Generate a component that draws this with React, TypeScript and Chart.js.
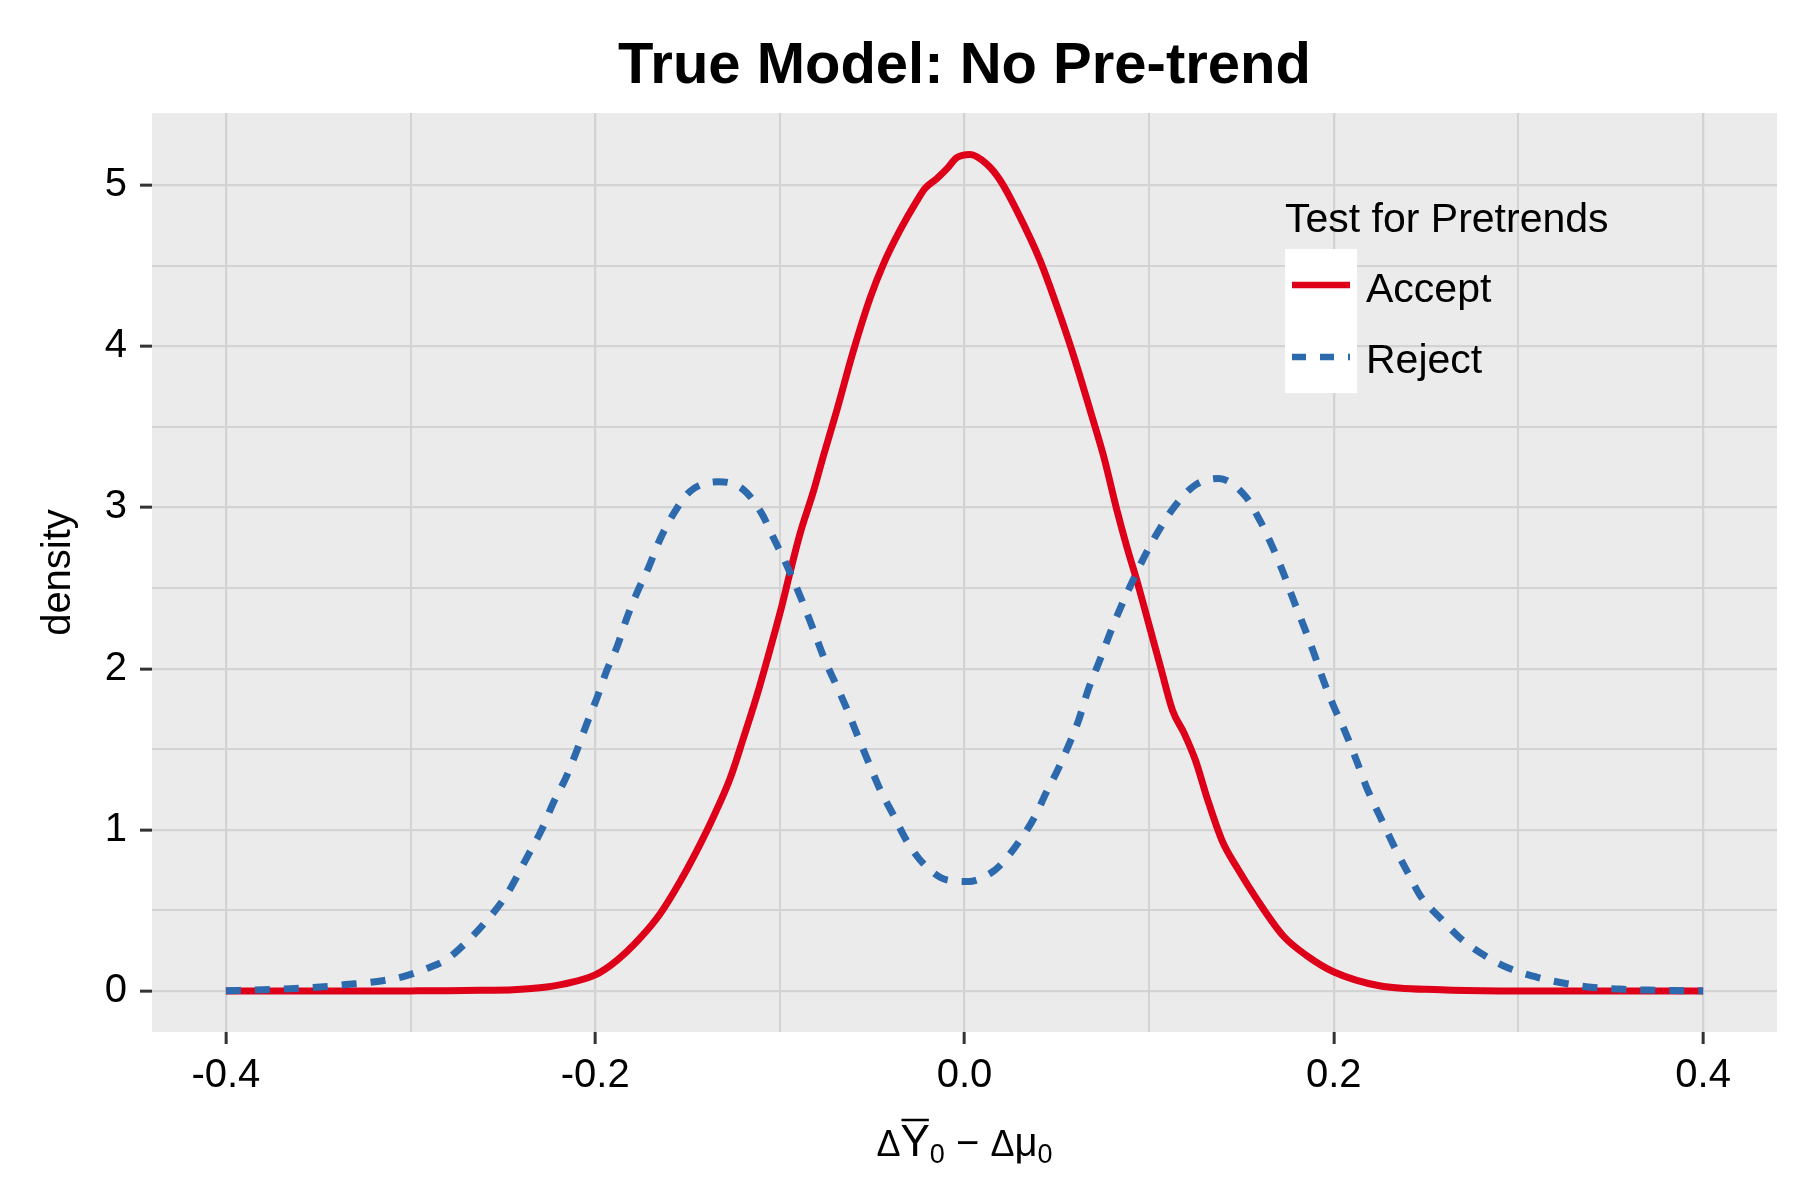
import React, { useEffect, useRef } from "react";
import { Chart, registerables } from "chart.js";

Chart.register(...registerables);

// density estimates
const acceptX = [
  -0.4, -0.35, -0.3, -0.28, -0.26, -0.2444, -0.23, -0.2173, -0.2, -0.1883, -0.1756, -0.1648,
  -0.154, -0.145, -0.136, -0.1269, -0.1197, -0.1125, -0.107, -0.0998, -0.0944, -0.089, -0.0818,
  -0.0764, -0.0692, -0.0602, -0.0511, -0.0439, -0.0349, -0.0259, -0.0213, -0.015, -0.0096,
  -0.0042, 0.0031, 0.0121, 0.0193, 0.0284, 0.041, 0.05, 0.0591, 0.0681, 0.0753, 0.0826, 0.0878,
  0.094, 0.1002, 0.1064, 0.1127, 0.1189, 0.1251, 0.1313, 0.1396, 0.1479, 0.1583, 0.1728, 0.1853,
  0.1998, 0.2247, 0.2579, 0.29, 0.33, 0.4,
];
const acceptY = [
  0, 0, 0.001, 0.002, 0.005, 0.008, 0.02, 0.043, 0.1, 0.19, 0.33, 0.48,
  0.68, 0.87, 1.08, 1.32, 1.57, 1.83, 2.05, 2.35, 2.6, 2.84, 3.1,
  3.32, 3.6, 3.97, 4.3, 4.51, 4.72, 4.9, 4.98, 5.04, 5.1,
  5.17, 5.19, 5.13, 5.03, 4.84, 4.53, 4.25, 3.94, 3.6, 3.32, 2.98, 2.76,
  2.52, 2.26, 2.0, 1.74, 1.6, 1.43, 1.2, 0.93, 0.76, 0.57, 0.34, 0.22,
  0.12, 0.033, 0.008, 0.001, 0, 0,
];

const rejectX = [
  -0.4, -0.38, -0.365, -0.349, -0.335, -0.319, -0.304, -0.29, -0.28, -0.27, -0.26, -0.2478,
  -0.236, -0.229, -0.2226, -0.216, -0.21, -0.2045, -0.199, -0.1937, -0.188, -0.183, -0.1774,
  -0.171, -0.165, -0.1576, -0.1486, -0.133, -0.1197, -0.1097, -0.1034, -0.0962, -0.089, -0.0818,
  -0.0755, -0.0691, -0.0637, -0.0574, -0.052, -0.0457, -0.0384, -0.0312, -0.0222, -0.0096, 0.0022,
  0.0139, 0.0193, 0.0297, 0.038, 0.0442, 0.0504, 0.0566, 0.0618, 0.067, 0.0732, 0.0795, 0.0857,
  0.0909, 0.0981, 0.1064, 0.1147, 0.1251, 0.1376, 0.1521, 0.1604, 0.1666, 0.1728, 0.178, 0.1842,
  0.1894, 0.1946, 0.1998, 0.2061, 0.2123, 0.2175, 0.2247, 0.233, 0.2403, 0.2475, 0.2579, 0.2683,
  0.2817, 0.2952, 0.3097, 0.3263, 0.3409, 0.355, 0.37, 0.384, 0.4,
];
const rejectY = [
  0.002, 0.008, 0.015, 0.025, 0.04, 0.058, 0.09, 0.145, 0.2, 0.3, 0.42, 0.6,
  0.85, 1.0, 1.17, 1.32, 1.49, 1.66, 1.82, 1.99, 2.14, 2.31, 2.47,
  2.63, 2.8, 2.96, 3.1, 3.16, 3.11, 2.96, 2.81, 2.64, 2.45, 2.24,
  2.05, 1.89, 1.75, 1.57, 1.42, 1.25, 1.09, 0.93, 0.79, 0.69, 0.68,
  0.73, 0.78, 0.93, 1.08, 1.23, 1.37, 1.53, 1.68, 1.87, 2.05, 2.24, 2.41,
  2.54, 2.71, 2.88, 3.02, 3.14, 3.18, 3.07, 2.91, 2.76, 2.59, 2.43, 2.25,
  2.09, 1.92, 1.77, 1.61, 1.43, 1.27, 1.09, 0.89, 0.73, 0.58, 0.45, 0.33,
  0.22, 0.14, 0.087, 0.045, 0.022, 0.012, 0.006, 0.003, 0.001,
];

const seriesLabels = ["Accept", "Reject"];
const xMajorTicks = [-0.4, -0.2, 0, 0.2, 0.4];
const xMinorTicks = [-0.3, -0.1, 0.1, 0.3];
const yMajorTicks = [0, 1, 2, 3, 4, 5];
const yMinorTicks = [0.5, 1.5, 2.5, 3.5, 4.5];

const FONT = "'Liberation Sans', Arial, Helvetica, sans-serif";
const RED = "#DE0019";
const BLUE = "#2C6AAD";
const GRID = "#D3D3D3";

const isMajor = (list: number[], v: number) => list.some((m) => Math.abs(m - v) < 1e-9);

const panelBackground = {
  id: "panelBackground",
  beforeDraw(chart: any) {
    const { ctx, chartArea: a } = chart;
    ctx.save();
    ctx.fillStyle = "#EBEBEB";
    ctx.fillRect(a.left, a.top, a.right - a.left, a.bottom - a.top);
    ctx.restore();
  },
};

const titles = {
  id: "titles",
  afterDraw(chart: any) {
    const { ctx, chartArea: a } = chart;
    const cx = (a.left + a.right) / 2;
    ctx.save();
    ctx.fillStyle = "#000";

    // main title
    ctx.font = `bold 58px ${FONT}`;
    ctx.textAlign = "center";
    ctx.textBaseline = "alphabetic";
    ctx.fillText("True Model: No Pre-trend", cx, 83);

    // y title
    ctx.save();
    ctx.translate(70, (a.top + a.bottom) / 2);
    ctx.rotate(-Math.PI / 2);
    ctx.font = `40px ${FONT}`;
    ctx.fillText("density", 0, 0);
    ctx.restore();

    // x title: ΔȲ0 − Δμ0
    const parts = [
      { t: "\u0394", size: 36, dy: 0, bar: false },
      { t: "Y", size: 44, dy: 0, bar: true },
      { t: "0", size: 27, dy: 7, bar: false },
      { t: " \u2212 ", size: 40, dy: 0, bar: false },
      { t: "\u0394", size: 36, dy: 0, bar: false },
      { t: "\u03bc", size: 40, dy: 0, bar: false },
      { t: "0", size: 27, dy: 7, bar: false },
    ];
    ctx.textAlign = "left";
    const widths = parts.map((p) => {
      ctx.font = `${p.size}px ${FONT}`;
      return ctx.measureText(p.t).width;
    });
    const total = widths.reduce((s, w) => s + w, 0);
    let x = cx - total / 2;
    const base = 1156;
    parts.forEach((p, i) => {
      ctx.font = `${p.size}px ${FONT}`;
      ctx.fillText(p.t, x, base + p.dy);
      if (p.bar) {
        ctx.strokeStyle = "#000";
        ctx.lineWidth = 2.5;
        ctx.beginPath();
        ctx.moveTo(x + 1, 1120);
        ctx.lineTo(x + widths[i] - 1, 1120);
        ctx.stroke();
      }
      x += widths[i];
    });
    ctx.restore();
  },
};

const insideLegend = {
  id: "insideLegend",
  afterDraw(chart: any) {
    const { ctx } = chart;
    ctx.save();
    ctx.fillStyle = "#000";
    ctx.textAlign = "left";
    ctx.textBaseline = "alphabetic";
    ctx.font = `41px ${FONT}`;
    ctx.fillText("Test for Pretrends", 1285, 232);

    ctx.fillStyle = "#FFFFFF";
    ctx.fillRect(1285, 249, 72, 144);

    const rows = [
      { label: seriesLabels[0], color: RED, dash: [] as number[], y: 285, base: 302 },
      { label: seriesLabels[1], color: BLUE, dash: [14, 14], y: 357, base: 373 },
    ];
    rows.forEach((r) => {
      ctx.strokeStyle = r.color;
      ctx.lineWidth = 6.5;
      ctx.lineCap = "butt";
      ctx.setLineDash(r.dash);
      ctx.beginPath();
      ctx.moveTo(1292, r.y);
      ctx.lineTo(1350, r.y);
      ctx.stroke();
      ctx.setLineDash([]);
      ctx.fillStyle = "#000";
      ctx.font = `41px ${FONT}`;
      ctx.fillText(r.label, 1366, r.base);
    });
    ctx.restore();
  },
};

const App: React.FC = () => {
  const canvasRef = useRef<HTMLCanvasElement>(null);
  const chartRef = useRef<Chart | null>(null);

  useEffect(() => {
    document.body.style.margin = "0";
    if (!canvasRef.current) return;
    if (chartRef.current) chartRef.current.destroy();

    const xAll = [...xMajorTicks, ...xMinorTicks].sort((a, b) => a - b);
    const yAll = [...yMajorTicks, ...yMinorTicks].sort((a, b) => a - b);

    chartRef.current = new Chart(canvasRef.current, {
      type: "line",
      data: {
        datasets: [
          {
            label: seriesLabels[0],
            data: acceptX.map((x, i) => ({ x, y: acceptY[i] })),
            borderColor: RED,
            borderWidth: 7,
            cubicInterpolationMode: "monotone",
            order: 1,
          },
          {
            label: seriesLabels[1],
            data: rejectX.map((x, i) => ({ x, y: rejectY[i] })),
            borderColor: BLUE,
            borderWidth: 7,
            borderDash: [15, 14],
            borderCapStyle: "butt",
            cubicInterpolationMode: "monotone",
            order: 0,
          },
        ],
      },
      options: {
        animation: false,
        responsive: false,
        events: [],
        layout: { padding: { top: 113, right: 23, left: 0, bottom: 0 } },
        elements: { point: { radius: 0 } },
        plugins: {
          legend: { display: false },
          title: { display: false },
          tooltip: { enabled: false },
        },
        scales: {
          x: {
            type: "linear",
            min: -0.44,
            max: 0.44,
            afterBuildTicks: (s: any) => {
              s.ticks = xAll.map((v) => ({ value: v }));
            },
            afterFit: (s: any) => {
              s.height = 168;
            },
            border: { display: false },
            grid: {
              color: GRID,
              lineWidth: (c: any) => (isMajor(xMajorTicks, c.tick?.value) ? 2.3 : 2),
              tickLength: 12,
              tickWidth: 3,
              tickColor: (c: any) =>
                isMajor(xMajorTicks, c.tick?.value) ? "#333333" : "rgba(0,0,0,0)",
            },
            ticks: {
              autoSkip: false,
              maxRotation: 0,
              padding: 8,
              color: "#000",
              font: { family: FONT, size: 40 },
              callback: (v: any) => (isMajor(xMajorTicks, Number(v)) ? Number(v).toFixed(1) : ""),
            },
          },
          y: {
            type: "linear",
            min: -0.254,
            max: 5.447,
            afterBuildTicks: (s: any) => {
              s.ticks = yAll.map((v) => ({ value: v }));
            },
            afterFit: (s: any) => {
              s.width = 152;
            },
            border: { display: false },
            grid: {
              color: GRID,
              lineWidth: (c: any) => (isMajor(yMajorTicks, c.tick?.value) ? 2.3 : 2),
              tickLength: 12,
              tickWidth: 3,
              tickColor: (c: any) =>
                isMajor(yMajorTicks, c.tick?.value) ? "#333333" : "rgba(0,0,0,0)",
            },
            ticks: {
              autoSkip: false,
              padding: 13,
              color: "#000",
              font: { family: FONT, size: 40 },
              callback: (v: any) => (isMajor(yMajorTicks, Number(v)) ? String(v) : ""),
            },
          },
        },
      },
      plugins: [panelBackground, titles, insideLegend],
    } as any);

    return () => {
      if (chartRef.current) {
        chartRef.current.destroy();
        chartRef.current = null;
      }
    };
  }, []);

  return (
    <div style={{ width: 1800, height: 1200, background: "#fff" }}>
      <canvas ref={canvasRef} width={1800} height={1200} />
    </div>
  );
};

export default App;
